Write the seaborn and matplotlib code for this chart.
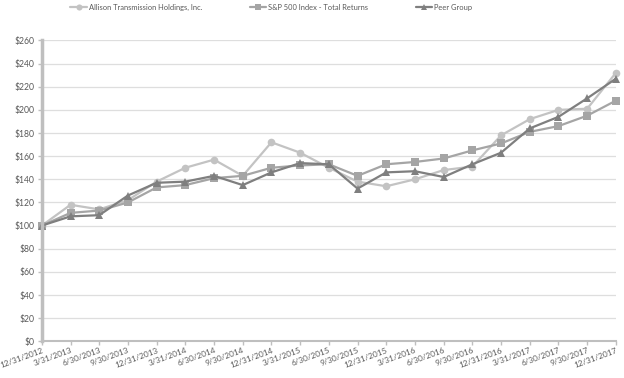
import matplotlib
matplotlib.use("Agg")
import matplotlib.pyplot as plt
import seaborn as sns
import pandas as pd
import numpy as np

dates = ["12/31/2012", "3/31/2013", "6/30/2013", "9/30/2013", "12/31/2013",
         "3/31/2014", "6/30/2014", "9/30/2014", "12/31/2014", "3/31/2015",
         "6/30/2015", "9/30/2015", "12/31/2015", "3/31/2016", "6/30/2016",
         "9/30/2016", "12/31/2016", "3/31/2017", "6/30/2017", "9/30/2017",
         "12/31/2017"]
allison = [100, 118, 114, 122, 138, 150, 157, 143, 172, 163, 150, 138, 134,
           140, 148, 151, 178, 192, 200, 201, 232]
sp500 = [100, 111, 113, 120, 133, 135, 141, 143, 150, 152, 153, 143, 153,
         155, 158, 165, 171, 181, 186, 195, 208]
peer = [100, 108, 109, 126, 137, 138, 143, 135, 146, 154, 153, 132, 146,
        147, 142, 153, 163, 184, 194, 210, 227]
yticks = list(range(0, 261, 20))

names = ["Allison Transmission Holdings, Inc.", "S&P 500 Index - Total Returns", "Peer Group"]
colors = ["#c3c3c3", "#a5a5a5", "#7f7f7f"]
markers = ["o", "s", "^"]

sns.set_theme(style="white")
plt.rcParams['font.family'] = ['Lato', 'DejaVu Sans']

fig = plt.figure(figsize=(6.24, 3.78), dpi=100)
ax = fig.add_axes([0.067, 0.097, 0.92, 0.796])

x = np.arange(len(dates))
for vals, name, c, m in zip([allison, sp500, peer], names, colors, markers):
    df = pd.DataFrame({"x": x, "y": vals})
    sns.lineplot(data=df, x="x", y="y", ax=ax, color=c, marker=m, markersize=5.5,
                 markeredgewidth=0, linewidth=1.6, label=name, clip_on=False)

ax.set_xlim(0, len(dates) - 1)
ax.set_ylim(0, 260)
ax.set_yticks(yticks)
ax.set_yticklabels([f"${v}" for v in yticks])
ax.set_xticks(x)
ax.set_xticklabels(dates, rotation=20, ha="right", rotation_mode="anchor", fontsize=5.9)
ax.set_xlabel("")
ax.set_ylabel("")
ax.grid(axis="y", color="#dedede", linewidth=0.9)
ax.set_axisbelow(True)
for s in ["top", "right"]:
    ax.spines[s].set_visible(False)
ax.spines["left"].set_color("#bfbfbf")
ax.spines["left"].set_linewidth(2.5)
ax.spines["bottom"].set_color("#bfbfbf")
ax.spines["bottom"].set_linewidth(1.5)
ax.tick_params(axis="both", colors="#bfbfbf", length=3, width=1, direction="out",
               labelcolor="#595959", labelsize=6.2, pad=2)
ax.tick_params(axis="x", bottom=True, pad=1, labelsize=5.9)
ax.tick_params(axis="y", left=True)

leg = ax.legend(loc="lower center", bbox_to_anchor=(0.40, 1.075), ncol=3, frameon=False,
                fontsize=5.4, columnspacing=6.3, handlelength=2.2, handletextpad=0.3,
                labelcolor="#595959", markerscale=0.8)

fig.savefig("out.png", dpi=100)
